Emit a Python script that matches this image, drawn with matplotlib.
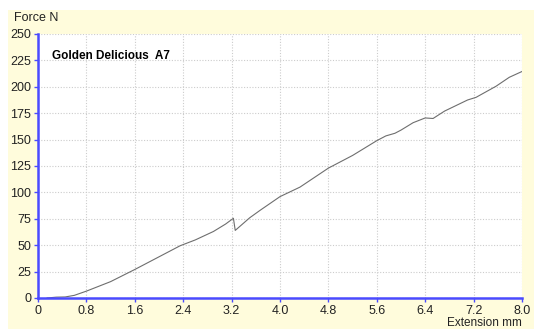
import matplotlib
matplotlib.use('Agg')
import matplotlib.pyplot as plt
from matplotlib.patches import Rectangle

# Force-extension curve
extension = [0.15, 0.3, 0.45, 0.6, 0.8, 1.0, 1.2, 1.6, 2.0, 2.35, 2.6, 2.9, 3.1, 3.23,
             3.26, 3.3, 3.5, 3.67, 4.0, 4.33, 4.8, 5.2, 5.6, 5.75, 5.9, 6.0, 6.2, 6.4,
             6.53, 6.72, 7.1, 7.24, 7.57, 7.79, 8.0]
force = [0.0, 0.8, 1.0, 2.5, 6.5, 11, 15.5, 27, 39, 49.5, 55, 63, 70, 75.5,
         64, 66, 76, 83, 96, 105, 123, 135, 149, 153.5, 156, 159, 166, 170.5,
         170, 177, 187.5, 190, 200.5, 209, 214.5]

x_ticks = [0, 0.8, 1.6, 2.4, 3.2, 4.0, 4.8, 5.6, 6.4, 7.2, 8.0]
x_labels = ['0', '0.8', '1.6', '2.4', '3.2', '4.0', '4.8', '5.6', '6.4', '7.2', '8.0']
y_ticks = list(range(0, 251, 25))

plt.rcParams['font.family'] = ['Liberation Sans', 'DejaVu Sans']

fig = plt.figure(figsize=(5.34, 3.29), dpi=100)
fig.patch.set_facecolor('white')
fig.patches.append(Rectangle((8 / 534, 0), 1, 1 - 10 / 329, transform=fig.transFigure,
                             facecolor='#fffcdc', edgecolor='none', zorder=-1))

ax = fig.add_axes([38 / 534, 31 / 329, 484 / 534, 264 / 329])
ax.set_facecolor('white')
ax.plot(extension, force, color='#6e6e6e', linewidth=0.8)

ax.set_xlim(0, 8)
ax.set_ylim(0, 250)
ax.set_xticks(x_ticks)
ax.set_xticklabels(x_labels)
ax.set_yticks(y_ticks)
ax.grid(True, color='#cccccc', linestyle=(0, (1, 1.5)), linewidth=0.8)

for s in ['top', 'right']:
    ax.spines[s].set_visible(False)
for s in ['left', 'bottom']:
    ax.spines[s].set_color('#4a4aff')
    ax.spines[s].set_linewidth(1.8)
ax.tick_params(colors='#4a4aff', length=3, width=1, labelcolor='#222222', labelsize=9, pad=2)

ax.text(0.029, 0.905, 'Golden Delicious  A7', transform=ax.transAxes,
        fontsize=8.5, fontweight='bold', color='black')
fig.text(14 / 534, 1 - 18 / 329, 'Force N', fontsize=9, color='#222222', va='center')
fig.text(522 / 534, 1 - 323 / 329, 'Extension mm', fontsize=8.5, color='#222222',
         ha='right', va='center')

plt.savefig('out.png', dpi=100)
plt.close()
